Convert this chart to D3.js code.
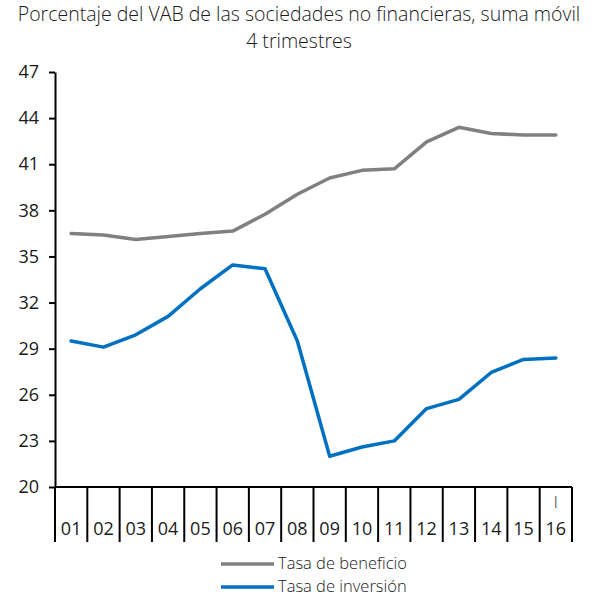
<!DOCTYPE html>
<html>
<head>
<meta charset="utf-8">
<script src="https://cdn.jsdelivr.net/npm/d3@7"></script>
<style>
  body { margin: 0; background: #fff; }
  text { font-family: "Open Sans", "Noto Sans", sans-serif; fill: #1a1a1a; }
</style>
</head>
<body>
<div id="chart"></div>
<script>
var years = ["01","02","03","04","05","06","07","08","09","10","11","12","13","14","15","16"];
var beneficio = [36.5, 36.4, 36.1, 36.3, 36.5, 36.65, 37.75, 39.05, 40.1, 40.6, 40.7, 42.45, 43.4, 43.0, 42.9, 42.9];
var inversion = [29.5, 29.1, 29.9, 31.1, 32.9, 34.45, 34.2, 29.5, 22.0, 22.6, 23.0, 25.1, 25.7, 27.45, 28.3, 28.4];
var yTicks = [20, 23, 26, 29, 32, 35, 38, 41, 44, 47];
var seriesNames = ["Tasa de beneficio", "Tasa de inversión"];
var colors = ["#808080", "#0070c0"];

var W = 599, H = 597,
    margin = {top: 72, left: 55, right: 27, bottom: 110};

var svg = d3.select("#chart").append("svg")
  .attr("width", W)
  .attr("height", H);

// Title (two lines)
svg.append("text")
  .attr("x", 299).attr("y", 21)
  .attr("text-anchor", "middle")
  .style("font-size", "19.5px").style("font-weight", 300)
  .text("Porcentaje del VAB de las sociedades no financieras, suma móvil");
svg.append("text")
  .attr("x", 299).attr("y", 48)
  .attr("text-anchor", "middle")
  .style("font-size", "19.5px").style("font-weight", 300)
  .text("4 trimestres");

var x = d3.scaleBand(years, [margin.left, W - margin.right]);
var y = d3.scaleLinear([20, 47], [H - margin.bottom, margin.top]);

// Y axis
var yAxis = svg.append("g")
  .attr("transform", `translate(${margin.left},0)`)
  .call(d3.axisLeft(y).tickValues(yTicks).tickSize(6).tickSizeOuter(0).tickPadding(10));
yAxis.select(".domain").attr("stroke", "#000").attr("stroke-width", 2);
yAxis.selectAll(".tick line").attr("stroke", "#000").attr("stroke-width", 2);
yAxis.selectAll(".tick text")
  .style("font-size", "18px").style("font-family", "'Open Sans', sans-serif").attr("fill", "#1a1a1a");

// X axis: baseline plus category dividers
var y0 = y(20), dividerBottom = y0 + 55;
svg.append("line")
  .attr("x1", margin.left).attr("x2", W - margin.right)
  .attr("y1", y0).attr("y2", y0)
  .attr("stroke", "#000").attr("stroke-width", 2);

var edges = years.map(d => x(d)).concat([x(years[years.length - 1]) + x.bandwidth()]);
svg.append("g").selectAll("line")
  .data(edges)
  .join("line")
    .attr("x1", d => d).attr("x2", d => d)
    .attr("y1", y0).attr("y2", dividerBottom)
    .attr("stroke", "#000").attr("stroke-width", 2);

svg.append("g").selectAll("text")
  .data(years)
  .join("text")
    .attr("x", d => x(d) + x.bandwidth() / 2)
    .attr("y", y0 + 48)
    .attr("text-anchor", "middle")
    .style("font-size", "18px")
    .text(d => d);

// quarter mark for last year
svg.append("text")
  .attr("x", x("16") + x.bandwidth() / 2)
  .attr("y", y0 + 21)
  .attr("text-anchor", "middle")
  .style("font-size", "16px").style("font-weight", 300)
  .text("I");

// Lines
var line = d3.line()
  .x((d, i) => x(years[i]) + x.bandwidth() / 2)
  .y(d => y(d));

[beneficio, inversion].forEach(function (s, k) {
  svg.append("path")
    .datum(s)
    .attr("fill", "none")
    .attr("stroke", colors[k])
    .attr("stroke-width", 3.5)
    .attr("stroke-linejoin", "round")
    .attr("stroke-linecap", "round")
    .attr("d", line);
});

// Legend
var legend = svg.append("g").selectAll("g")
  .data(seriesNames)
  .join("g")
    .attr("transform", (d, i) => `translate(221,${564 + i * 23})`);
legend.append("line")
  .attr("x1", 0).attr("x2", 53)
  .attr("stroke", (d, i) => colors[i])
  .attr("stroke-width", 3.5);
legend.append("text")
  .attr("x", 57).attr("y", 5)
  .style("font-size", "16.5px").style("font-weight", 300)
  .text(d => d);
</script>
</body>
</html>
